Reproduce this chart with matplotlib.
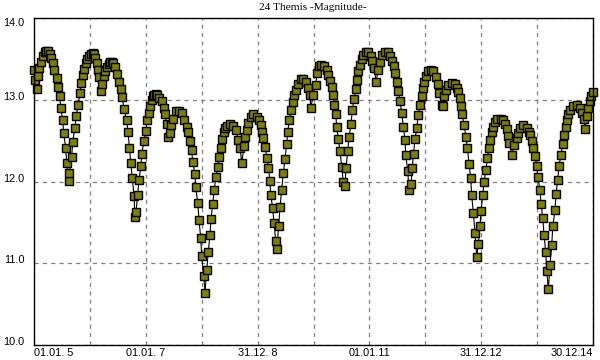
import matplotlib
matplotlib.use("Agg")
import matplotlib.pyplot as plt
import numpy as np

plt.rcParams['lines.scale_dashes'] = False

# years since 01.01.2005
t_offset = [
    0.000, 0.018, 0.048, 0.063, 0.098, 0.125, 0.156, 0.188, 0.220, 0.250,
    0.286, 0.313, 0.335, 0.363, 0.406, 0.429, 0.460, 0.478, 0.513, 0.531,
    0.567, 0.585, 0.621, 0.632, 0.674, 0.692, 0.728, 0.757, 0.787, 0.823,
    0.841, 0.871, 0.895, 0.925, 0.954, 0.989, 1.020, 1.047, 1.073, 1.100,
    1.122, 1.140, 1.168, 1.193, 1.222, 1.252, 1.279, 1.306, 1.333, 1.360,
    1.390, 1.419, 1.449, 1.490, 1.526, 1.551, 1.580, 1.610, 1.658, 1.682,
    1.708, 1.730, 1.759, 1.789, 1.807, 1.825, 1.855, 1.878, 1.914, 1.927,
    1.968, 1.998, 2.027, 2.057, 2.070, 2.106, 2.129, 2.152, 2.183, 2.209,
    2.242, 2.285, 2.326, 2.344, 2.374, 2.403, 2.433, 2.451, 2.492, 2.540,
    2.599, 2.642, 2.689, 2.732, 2.760, 2.791, 2.821, 2.839, 2.880, 2.893,
    2.929, 2.952, 2.982, 3.000, 3.036, 3.059, 3.090, 3.118, 3.149, 3.167,
    3.197, 3.226, 3.251, 3.286, 3.310, 3.345, 3.372, 3.399, 3.422, 3.458,
    3.506, 3.565, 3.614, 3.655, 3.685, 3.716, 3.757, 3.775, 3.805, 3.834,
    3.877, 3.923, 3.984, 4.031, 4.056, 4.084, 4.102, 4.133, 4.168, 4.192,
    4.222, 4.234, 4.270, 4.294, 4.324, 4.342, 4.378, 4.401, 4.431, 4.460,
    4.490, 4.521, 4.539, 4.567, 4.592, 4.628, 4.651, 4.687, 4.728, 4.771,
    4.818, 4.866, 4.907, 4.938, 4.950, 4.997, 5.040, 5.068, 5.104, 5.134,
    5.194, 5.236, 5.265, 5.295, 5.326, 5.354, 5.372, 5.397, 5.415, 5.444,
    5.474, 5.505, 5.533, 5.564, 5.582, 5.612, 5.635, 5.671, 5.694, 5.725,
    5.755, 5.778, 5.802, 5.827, 5.863, 5.891, 5.934, 5.981, 6.024, 6.052,
    6.088, 6.118, 6.159, 6.190, 6.220, 6.279, 6.328, 6.369, 6.399, 6.440,
    6.458, 6.489, 6.517, 6.548, 6.578, 6.607, 6.637, 6.650, 6.685, 6.709,
    6.745, 6.766, 6.789, 6.816, 6.847, 6.875, 6.906, 6.936, 6.954, 6.977,
    7.013, 7.054, 7.097, 7.144, 7.192, 7.233, 7.251, 7.294, 7.312, 7.335,
    7.371, 7.412, 7.473, 7.532, 7.573, 7.591, 7.621, 7.639, 7.662, 7.693,
    7.728, 7.752, 7.782, 7.812, 7.830, 7.859, 7.889, 7.920, 7.949, 7.979,
    7.997, 8.027, 8.051, 8.086, 8.110, 8.140, 8.158, 8.188, 8.206, 8.247,
    8.289, 8.349, 8.396, 8.426, 8.467, 8.485, 8.506, 8.546, 8.592, 8.635,
    8.653, 8.694, 8.754, 8.814, 8.856, 8.873, 8.904, 8.933, 8.963, 8.993,
    9.011, 9.052, 9.070, 9.101, 9.124, 9.154, 9.172, 9.201, 9.231, 9.262,
    9.280, 9.321, 9.339, 9.369, 9.392, 9.428, 9.459, 9.482, 9.512, 9.530,
    9.559, 9.589, 9.648, 9.709, 9.768, 9.809, 9.840, 9.857, 9.888, 9.916,
    9.947, 9.965, 9.995,
]

mag = [
    13.36, 13.24, 13.13, 13.29, 13.39, 13.46, 13.54, 13.58, 13.60, 13.60,
    13.56, 13.51, 13.45, 13.36, 13.26, 13.16, 13.04, 12.90, 12.75, 12.59,
    12.41, 12.23, 12.01, 12.10, 12.30, 12.48, 12.65, 12.80, 12.94, 13.08,
    13.20, 13.30, 13.38, 13.45, 13.50, 13.54, 13.56, 13.57, 13.56, 13.51,
    13.45, 13.37, 13.28, 13.11, 13.19, 13.29, 13.35, 13.40, 13.44, 13.46,
    13.46, 13.45, 13.40, 13.31, 13.22, 13.13, 13.03, 12.89, 12.75, 12.60,
    12.41, 12.23, 12.04, 11.82, 11.56, 11.63, 11.84, 12.02, 12.19, 12.34,
    12.49, 12.62, 12.75, 12.84, 12.92, 13.00, 13.04, 13.06, 13.07, 13.06,
    13.02, 12.98, 12.90, 12.82, 12.70, 12.55, 12.59, 12.69, 12.77, 12.86,
    12.86, 12.84, 12.75, 12.67, 12.60, 12.49, 12.38, 12.24, 12.09, 11.93,
    11.74, 11.53, 11.31, 11.09, 10.84, 10.64, 10.92, 11.14, 11.35, 11.54,
    11.73, 11.90, 12.05, 12.18, 12.30, 12.41, 12.52, 12.61, 12.65, 12.68,
    12.70, 12.68, 12.63, 12.51, 12.41, 12.23, 12.43, 12.54, 12.63, 12.71,
    12.79, 12.82, 12.79, 12.75, 12.69, 12.61, 12.53, 12.42, 12.29, 12.16,
    12.01, 11.84, 11.67, 11.49, 11.27, 11.18, 11.46, 11.69, 11.90, 12.10,
    12.28, 12.46, 12.61, 12.75, 12.87, 12.97, 13.06, 13.12, 13.19, 13.25,
    13.25, 13.22, 13.14, 13.06, 12.90, 13.06, 13.18, 13.33, 13.41, 13.43,
    13.41, 13.37, 13.30, 13.23, 13.15, 13.06, 12.94, 12.83, 12.67, 12.52,
    12.37, 12.18, 11.99, 11.94, 12.17, 12.37, 12.54, 12.70, 12.87, 13.01,
    13.13, 13.24, 13.35, 13.43, 13.50, 13.55, 13.59, 13.58, 13.54, 13.48,
    13.39, 13.22, 13.36, 13.46, 13.55, 13.59, 13.58, 13.54, 13.48, 13.41,
    13.33, 13.22, 13.11, 12.98, 12.84, 12.67, 12.51, 12.33, 12.13, 11.89,
    11.97, 12.17, 12.34, 12.52, 12.66, 12.81, 12.93, 13.05, 13.14, 13.22,
    13.29, 13.35, 13.37, 13.35, 13.28, 13.19, 13.08, 12.94, 12.92, 13.04,
    13.12, 13.18, 13.21, 13.19, 13.14, 13.09, 13.02, 12.92, 12.82, 12.69,
    12.55, 12.41, 12.22, 12.04, 11.83, 11.62, 11.37, 11.08, 11.24, 11.46,
    11.64, 11.83, 12.00, 12.14, 12.29, 12.41, 12.51, 12.60, 12.67, 12.73,
    12.77, 12.77, 12.75, 12.70, 12.64, 12.56, 12.47, 12.33, 12.45, 12.53,
    12.59, 12.66, 12.69, 12.66, 12.61, 12.57, 12.50, 12.41, 12.31, 12.19,
    12.06, 11.90, 11.73, 11.55, 11.35, 11.14, 10.91, 10.68, 10.98, 11.22,
    11.45, 11.65, 11.85, 12.02, 12.19, 12.33, 12.46, 12.57, 12.67, 12.75,
    12.82, 12.88, 12.92, 12.93, 12.90, 12.84, 12.76, 12.64, 12.80, 12.90,
    12.99, 13.04, 13.09,
]

grid_years = list(range(2005, 2016))
label_years = [2005, 2007, 2009, 2011, 2013, 2015]
x_labels = ["01.01. 5", "01.01. 7", "31.12. 8", "01.01.11", "31.12.12", "30.12.14"]
y_ticks = [10.0, 11.0, 12.0, 13.0, 14.0]
title = "24 Themis -Magnitude-"

years = 2005 + np.array(t_offset)

fig = plt.figure(figsize=(6, 3.6), dpi=100)
ax = fig.add_axes([34 / 600, 15 / 360, 559 / 600, 327 / 360])

ax.plot(years, mag, color="black", lw=0.8, marker="s", markersize=5.6,
        markerfacecolor="#808000", markeredgecolor="black", markeredgewidth=1.0,
        clip_on=False, zorder=3)

ax.set_xlim(2005, 2015)
ax.set_ylim(10, 14)

ax.set_xticks(grid_years)
ax.set_xticklabels([x_labels[label_years.index(y)] if y in label_years else ""
                    for y in grid_years])
ax.set_yticks(y_ticks)
ax.set_yticklabels([f"{v:.1f}" for v in y_ticks])

ax.tick_params(length=0, labelsize=7.8)
ax.tick_params(axis="x", pad=2)
ax.tick_params(axis="y", pad=7)
for lab in ax.get_xticklabels() + ax.get_yticklabels():
    lab.set_fontfamily("Liberation Sans")

xl = ax.get_xticklabels()
xl[0].set_ha("left")
xl[-1].set_ha("right")
yl = ax.get_yticklabels()
for lab in yl[:-1]:
    lab.set_va("baseline")
yl[-1].set_va("top")

ax.grid(True, color="#808080", lw=0.9, ls=(0, (3, 3)))
ax.set_axisbelow(True)
for sp in ax.spines.values():
    sp.set_linewidth(1.0)
    sp.set_zorder(4)

fig.text(313 / 600, 1 - 8 / 360, title, ha="center", va="center",
         family="Liberation Serif", fontsize=8.2)

fig.savefig("out.png", dpi=100)
